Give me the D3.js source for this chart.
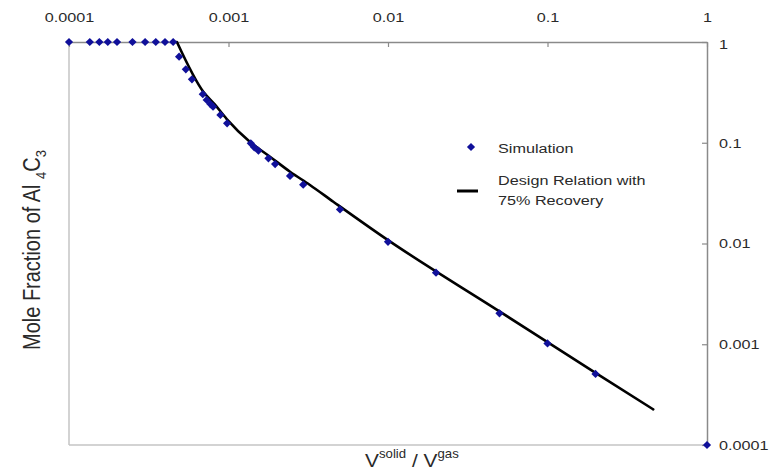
<!DOCTYPE html>
<html lang="en">

<head>
    <meta charset="UTF-8">
    <title>Mole Fraction of Al4C3</title>
    <script src="https://d3js.org/d3.v7.min.js"></script>
    <style>
        body,
        html {
            margin: 0;
            background-color: white;
            font-family: Arial, "Liberation Sans", sans-serif;
        }

        #chart text {
            fill: #2a2a2a;
        }
    </style>
</head>

<body>
    <svg id="chart"></svg>

    <script>
        // Simulation points
        const simX = [0.0001, 0.000135, 0.000155, 0.000175, 0.0002, 0.00025, 0.0003, 0.00035, 0.0004, 0.00045,
            0.00049, 0.00054, 0.00059, 0.00069, 0.00073, 0.00077, 0.0008, 0.00089, 0.00098,
            0.00138, 0.00145, 0.00154, 0.00178, 0.00196, 0.00243, 0.00294,
            0.005, 0.01, 0.02, 0.05, 0.1, 0.2, 1];
        const simY = [1, 1, 1, 1, 1, 1, 1, 1, 1, 1,
            0.715, 0.536, 0.426, 0.303, 0.266, 0.242, 0.228, 0.189, 0.156,
            0.0988, 0.0902, 0.0834, 0.0701, 0.0615, 0.0468, 0.0384,
            0.0218, 0.0104, 0.00513, 0.00203, 0.00102, 0.000507, 0.0001];

        // Design relation with 75% recovery
        const lineX = [0.000475, 0.000695, 0.00082, 0.000975, 0.00136, 0.00182, 0.00243, 0.00324, 0.00454, 0.01, 0.05, 0.2, 0.46];
        const lineY = [1, 0.321, 0.24, 0.172, 0.1024, 0.0727, 0.0516, 0.0381, 0.026, 0.0108, 0.00212, 0.00052, 0.000226];

        const tickVals = [0.0001, 0.001, 0.01, 0.1, 1];
        const tickLabels = ["0.0001", "0.001", "0.01", "0.1", "1"];

        const svgWidth = 778, svgHeight = 472;
        const margin = { top: 42, right: 71, bottom: 27, left: 69 };
        const stretch = 1.2;

        const svg = d3.select("#chart")
            .attr("width", svgWidth)
            .attr("height", svgHeight);

        const xScale = d3.scaleLog()
            .domain([0.0001, 1])
            .range([margin.left, svgWidth - margin.right]);

        const yScale = d3.scaleLog()
            .domain([0.0001, 1])
            .range([svgHeight - margin.bottom, margin.top]);

        // light frame on left and bottom
        svg.append("line")
            .attr("x1", xScale(0.0001)).attr("x2", xScale(0.0001))
            .attr("y1", yScale(1)).attr("y2", yScale(0.0001))
            .attr("stroke", "#c4c4c4").attr("stroke-width", 1.5);
        svg.append("line")
            .attr("x1", xScale(0.0001)).attr("x2", xScale(1))
            .attr("y1", yScale(0.0001)).attr("y2", yScale(0.0001))
            .attr("stroke", "#c4c4c4").attr("stroke-width", 1.5);

        // top axis
        const xAxis = svg.append("g")
            .attr("transform", `translate(0, ${yScale(1)})`)
            .call(d3.axisTop(xScale)
                .tickValues(tickVals)
                .tickFormat((d, i) => tickLabels[i])
                .tickSizeInner(-5)
                .tickSizeOuter(0)
                .tickPadding(20));

        // right axis
        const yAxis = svg.append("g")
            .attr("transform", `translate(${xScale(1)}, 0)`)
            .call(d3.axisRight(yScale)
                .tickValues(tickVals)
                .tickFormat((d, i) => tickLabels[i])
                .tickSizeInner(-5)
                .tickSizeOuter(0)
                .tickPadding(10));

        [xAxis, yAxis].forEach(ax => {
            ax.select(".domain").attr("stroke", "#8a8a8a").attr("stroke-width", 1.5);
            ax.selectAll(".tick line").attr("stroke", "#8a8a8a").attr("stroke-width", 1.2);
            ax.selectAll(".tick text")
                .attr("font-size", 13.5)
                .attr("font-family", "Arial, 'Liberation Sans', sans-serif")
                .attr("transform", `scale(${stretch},1)`);
        });
        yAxis.selectAll(".tick").filter(d => d === 1).select("text").attr("dy", "0.45em");

        // design relation line
        const line = d3.line()
            .x((d, i) => xScale(lineX[i]))
            .y((d, i) => yScale(lineY[i]))
            .curve(d3.curveMonotoneX);

        svg.append("path")
            .datum(lineX)
            .attr("d", line)
            .attr("fill", "none")
            .attr("stroke", "black")
            .attr("stroke-width", 2.6)
            .attr("stroke-linejoin", "round")
            .attr("stroke-linecap", "round");

        // simulation markers
        const diamond = d3.symbol().type(d3.symbolSquare).size(34);
        svg.selectAll(".sim")
            .data(simX)
            .enter().append("path")
            .attr("class", "sim")
            .attr("d", diamond)
            .attr("transform", (d, i) => `translate(${xScale(d)}, ${yScale(simY[i])}) rotate(45)`)
            .attr("fill", "#10109a");

        // legend
        const legend = svg.append("g").attr("transform", "translate(471, 0)");
        legend.append("path")
            .attr("d", diamond)
            .attr("transform", "translate(0, 147) rotate(45)")
            .attr("fill", "#10109a");
        legend.append("line")
            .attr("x1", -14).attr("x2", 7)
            .attr("y1", 191).attr("y2", 191)
            .attr("stroke", "black").attr("stroke-width", 3);

        const legendText = [
            { y: 153, t: "Simulation" },
            { y: 185, t: "Design Relation with" },
            { y: 205, t: "75% Recovery" }
        ];
        legend.selectAll(".ltext")
            .data(legendText)
            .enter().append("text")
            .attr("class", "ltext")
            .attr("transform", d => `translate(27, ${d.y}) scale(${stretch},1)`)
            .attr("font-size", 13.5)
            .text(d => d.t);

        // x label
        const xl = svg.append("text")
            .attr("transform", `translate(365, 467) scale(1.1,1)`)
            .attr("font-size", 19);
        xl.append("tspan").text("V");
        xl.append("tspan").attr("font-size", 12).attr("dy", -9).text("solid");
        xl.append("tspan").attr("dy", 9).text(" / V");
        xl.append("tspan").attr("font-size", 12).attr("dy", -9).text("gas");

        // y label
        const yl = svg.append("text")
            .attr("transform", "translate(40, 250) rotate(-90) scale(1,1.15)")
            .attr("text-anchor", "middle")
            .attr("font-size", 20);
        yl.append("tspan").text("Mole Fraction of Al ");
        yl.append("tspan").attr("font-size", 13).attr("dy", 5).text("4");
        yl.append("tspan").attr("dy", -5).text("C");
        yl.append("tspan").attr("font-size", 13).attr("dy", 5).text("3");
    </script>
</body>

</html>
